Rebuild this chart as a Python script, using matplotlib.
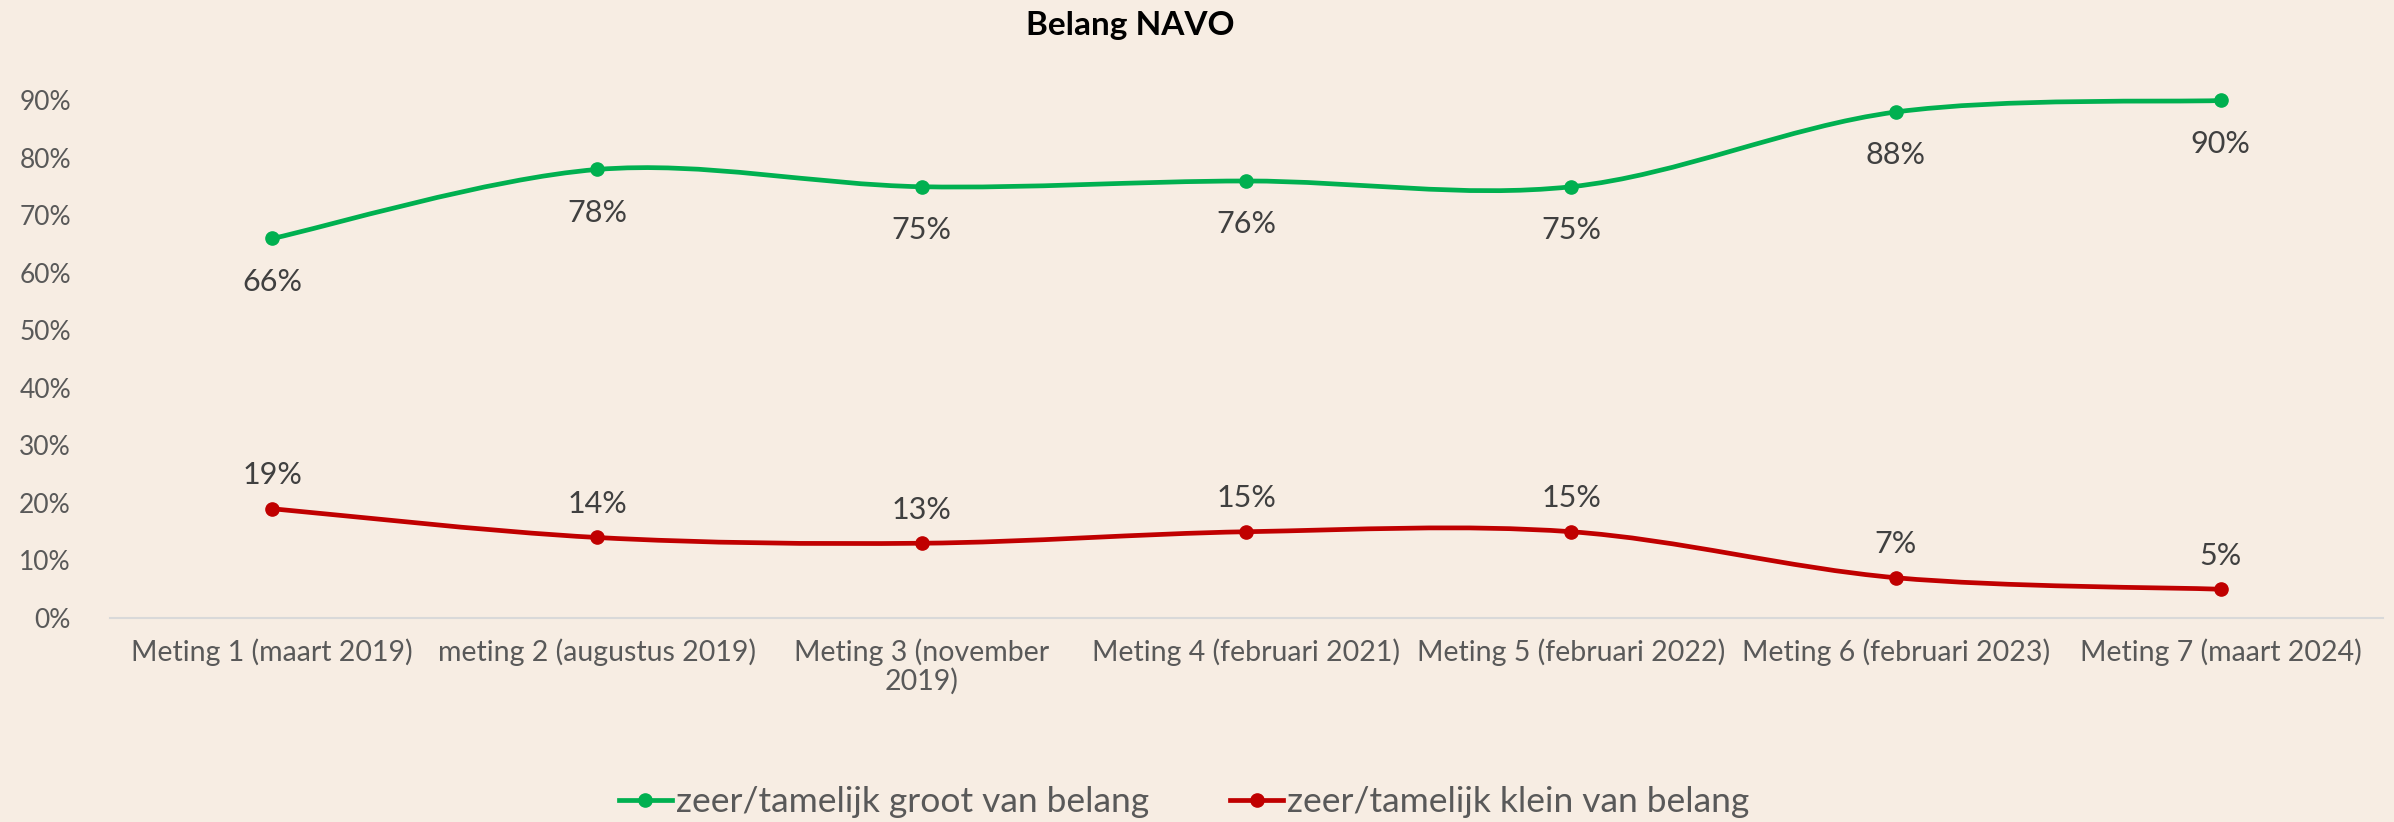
import matplotlib
matplotlib.use("Agg")
import matplotlib.pyplot as plt
from matplotlib.path import Path
from matplotlib.patches import PathPatch
from matplotlib.lines import Line2D
import numpy as np

plt.rcParams['font.family'] = ['Lato', 'DejaVu Sans']

title = "Belang NAVO"
categories = [
    "Meting 1 (maart 2019)",
    "meting 2 (augustus 2019)",
    "Meting 3 (november\n2019)",
    "Meting 4 (februari 2021)",
    "Meting 5 (februari 2022)",
    "Meting 6 (februari 2023)",
    "Meting 7 (maart 2024)",
]
series_names = ["zeer/tamelijk groot van belang", "zeer/tamelijk klein van belang"]
groot = [66, 78, 75, 76, 75, 88, 90]
klein = [19, 14, 13, 15, 15, 7, 5]
yticks = [0, 10, 20, 30, 40, 50, 60, 70, 80, 90]
ytick_labels = ["0%", "10%", "20%", "30%", "40%", "50%", "60%", "70%", "80%", "90%"]

GREEN = "#00B050"
RED = "#C00000"
BG = "#F7EDE3"
TXT = "#595959"
LBL = "#404040"

fig = plt.figure(figsize=(23.94, 8.22), dpi=100, facecolor=BG)
ax = fig.add_axes([0.0459, 0.2482, 0.9495, 0.6995])
ax.set_facecolor(BG)

def smooth_path(xs, ys):
    pts = np.column_stack([xs, ys]).astype(float)
    n = len(pts)
    verts = [pts[0]]
    codes = [Path.MOVETO]
    for i in range(n - 1):
        p_prev = pts[i - 1] if i > 0 else pts[i]
        p_next2 = pts[i + 2] if i + 2 < n else pts[i + 1]
        c1 = pts[i] + (pts[i + 1] - p_prev) / 6.0
        c2 = pts[i + 1] - (p_next2 - pts[i]) / 6.0
        verts += [c1, c2, pts[i + 1]]
        codes += [Path.CURVE4] * 3
    return Path(verts, codes)

x = np.arange(len(categories))
for vals, col, off, va in [(groot, GREEN, -21, 'top'), (klein, RED, 14, 'bottom')]:
    ax.add_patch(PathPatch(smooth_path(x, vals), facecolor='none', edgecolor=col,
                           lw=3.4, capstyle='round', joinstyle='round', zorder=3))
    ax.plot(x, vals, linestyle='none', marker='o', ms=9.5, color=col, zorder=4)
    for xi, v in zip(x, vals):
        ax.annotate(f"{v}%", (xi, v), xytext=(0, off), textcoords='offset points',
                    ha='center', va=va, fontsize=22, color=LBL)

ax.set_xlim(-0.5, len(categories) - 0.5)
ax.set_ylim(0, 100)
ax.set_yticks(yticks)
ax.set_yticklabels(ytick_labels)
ax.set_xticks(x)
ax.set_xticklabels(categories)
ax.tick_params(axis='y', length=0, pad=28, labelsize=19, labelcolor=TXT)
ax.tick_params(axis='x', length=0, pad=15, labelsize=20.5, labelcolor=TXT)
for lab in ax.get_xticklabels():
    lab.set_linespacing(1.05)
for s in ['top', 'right', 'left']:
    ax.spines[s].set_visible(False)
ax.spines['bottom'].set_color('#D9D9D9')
ax.spines['bottom'].set_linewidth(1.5)

fig.text(1130 / 2394, 1 - 26 / 822, title, ha='center', va='center',
         fontsize=24, fontweight='bold', color='black')

handles = [Line2D([0], [0], color=GREEN, lw=3.4, marker='o', ms=9.5),
           Line2D([0], [0], color=RED, lw=3.4, marker='o', ms=9.5)]
fig.legend(handles, series_names, loc='center', bbox_to_anchor=(1184 / 2394, 1 - 802 / 822),
           ncol=2, frameon=False, fontsize=25.5, labelcolor=TXT, handlelength=1.5,
           handletextpad=0.1, columnspacing=2.3)

fig.savefig("out.png", dpi=100, facecolor=BG)
